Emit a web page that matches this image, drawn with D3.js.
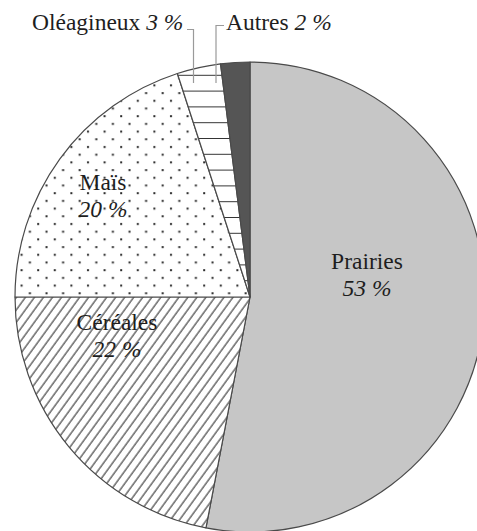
<!DOCTYPE html>
<html>
<head>
<meta charset="utf-8">
<script src="https://cdn.jsdelivr.net/npm/d3@7"></script>
<style>
  body { margin: 0; background: #fff; }
</style>
</head>
<body>
<div id="chart"></div>
<script>
const categories = ['Prairies', 'Céréales', 'Maïs', 'Oléagineux', 'Autres'];
const values = [53, 22, 20, 3, 2];
const percentLabels = ['53 %', '22 %', '20 %', '3 %', '2 %'];

const width = 477, height = 531;
const cx = 250, cy = 297, radius = 235;
const serif = "'Liberation Serif', 'Times New Roman', Times, 'DejaVu Serif', serif";
const fontSize = 23.5;

const svg = d3.select('#chart').append('svg')
  .attr('width', width)
  .attr('height', height);

const defs = svg.append('defs');

// dots for Maïs
const dots = defs.append('pattern')
  .attr('id', 'dots')
  .attr('patternUnits', 'userSpaceOnUse')
  .attr('width', 16.6).attr('height', 15.4);
dots.append('rect').attr('width', 16.6).attr('height', 15.4).attr('fill', '#fff');
dots.append('rect').attr('x', 3).attr('y', 3).attr('width', 2).attr('height', 2).attr('fill', '#2a2a2a');
dots.append('rect').attr('x', 11.3).attr('y', 10.7).attr('width', 2).attr('height', 2).attr('fill', '#2a2a2a');

// diagonal hatch for Céréales
const hatch = defs.append('pattern')
  .attr('id', 'hatch')
  .attr('patternUnits', 'userSpaceOnUse')
  .attr('width', 7.3).attr('height', 10)
  .attr('patternTransform', 'rotate(36)');
hatch.append('rect').attr('width', 7.3).attr('height', 10).attr('fill', '#fff');
hatch.append('line').attr('x1', 1).attr('y1', 0).attr('x2', 1).attr('y2', 10)
  .attr('stroke', '#444').attr('stroke-width', 1.2);

// horizontal lines for Oléagineux
const hlines = defs.append('pattern')
  .attr('id', 'hlines')
  .attr('patternUnits', 'userSpaceOnUse')
  .attr('y', 78)
  .attr('width', 10).attr('height', 15.8);
hlines.append('rect').attr('width', 10).attr('height', 15.8).attr('fill', '#fff');
hlines.append('line').attr('x1', 0).attr('y1', 0).attr('x2', 10).attr('y2', 0)
  .attr('stroke', '#333').attr('stroke-width', 2);

const fills = ['#c6c6c6', 'url(#hatch)', 'url(#dots)', 'url(#hlines)', '#555555'];

const pie = d3.pie().sort(null).value(d => d);
const arc = d3.arc().innerRadius(0).outerRadius(radius);

const g = svg.append('g').attr('transform', `translate(${cx},${cy})`);

g.selectAll('path')
  .data(pie(values))
  .enter().append('path')
  .attr('d', arc)
  .attr('fill', (d, i) => fills[i])
  .attr('stroke', '#4a4a4a')
  .attr('stroke-width', 1.2)
  .attr('stroke-linejoin', 'round');

// labels inside the big slices (offsets from centre)
const inside = { 'Prairies': [117, -28], 'Céréales': [-133, 33], 'Maïs': [-147, -107] };

categories.forEach((c, i) => {
  if (!inside[c]) return;
  const [dx, dy] = inside[c];
  g.append('text').attr('x', dx).attr('y', dy)
    .attr('text-anchor', 'middle').attr('font-size', fontSize).attr('font-family', serif).attr('fill', '#1e1e1e')
    .text(c);
  g.append('text').attr('x', dx).attr('y', dy + 27)
    .attr('text-anchor', 'middle').attr('font-size', fontSize).attr('font-family', serif).attr('font-style', 'italic').attr('fill', '#1e1e1e')
    .text(percentLabels[i]);
});

// outside labels with leaders
const leader = svg.append('g').attr('fill', 'none').attr('stroke', '#9a9a9a').attr('stroke-width', 1.2);

function outsideLabel(name, x) {
  const i = categories.indexOf(name);
  const t = svg.append('text').attr('x', x).attr('y', 30)
    .attr('font-size', fontSize).attr('font-family', serif).attr('fill', '#1e1e1e');
  t.append('tspan').attr('font-family', serif).text(categories[i] + ' ');
  t.append('tspan').attr('font-family', serif).attr('font-style', 'italic').text(percentLabels[i]);
}

outsideLabel('Oléagineux', 32);
leader.append('path').attr('d', 'M187,29.5H193.5V83');

outsideLabel('Autres', 226);
leader.append('path').attr('d', 'M224,25.5H216V83');
</script>
</body>
</html>
